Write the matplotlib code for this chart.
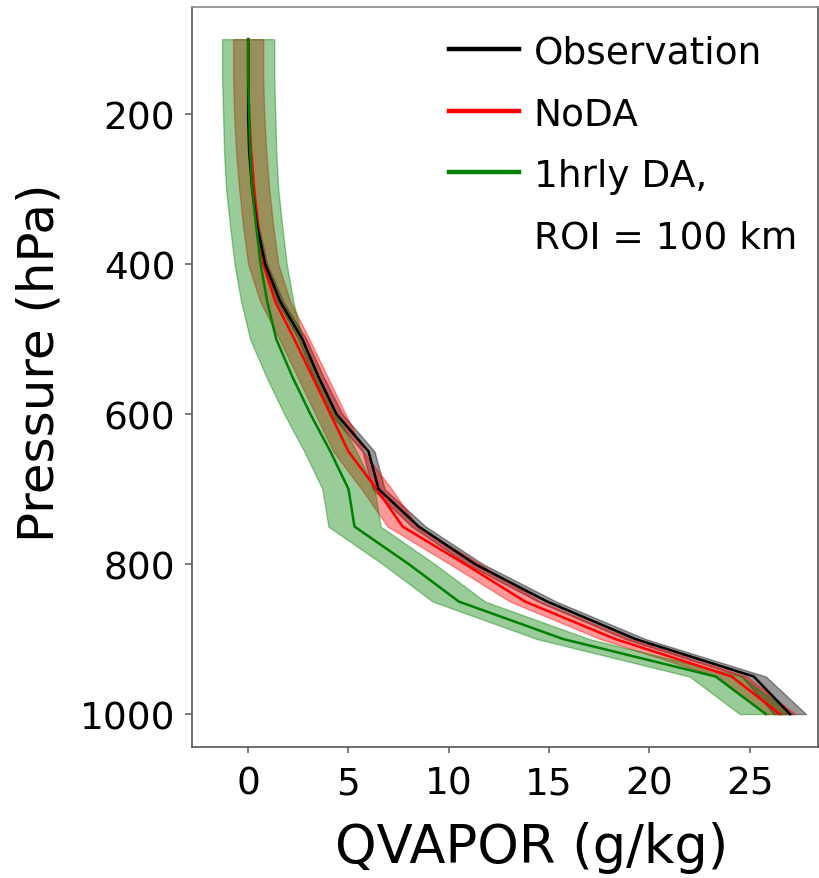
import numpy as np
import matplotlib
matplotlib.use('Agg')
import matplotlib.pyplot as plt
from matplotlib.lines import Line2D

# pressure levels (hPa)
pressure = [100, 150, 200, 250, 300, 350, 400, 450, 500, 550,
            600, 650, 700, 750, 800, 850, 900, 950, 1000]

# water vapour mixing ratio (g/kg)
obs = [0.0, 0.0, 0.0, 0.05, 0.2, 0.45, 0.85, 1.6, 2.7, 3.5,
       4.4, 6.0, 6.5, 8.5, 11.3, 14.9, 19.3, 25.2, 27.0]
noda = [0.0, 0.0, 0.05, 0.15, 0.3, 0.5, 0.75, 1.35, 2.3, 3.2,
        4.1, 5.0, 6.4, 7.7, 10.8, 13.8, 18.3, 24.1, 26.5]
da1h = [0.0, 0.0, 0.05, 0.1, 0.2, 0.4, 0.62, 0.95, 1.4, 2.2,
        3.1, 4.1, 5.0, 5.3, 8.0, 10.5, 15.7, 23.3, 25.8]

# spread (half width of shaded band)
obs_spread = [0.0, 0.0, 0.0, 0.02, 0.05, 0.08, 0.1, 0.15, 0.2, 0.25,
              0.3, 0.3, 0.3, 0.35, 0.4, 0.45, 0.5, 0.6, 0.8]
noda_spread = 0.75
da1h_spread = 1.3

plt.rcParams['font.family'] = 'DejaVu Sans'

fig = plt.figure(figsize=(8.19, 8.79), dpi=100)
ax = fig.add_axes([0.2344, 0.149, 0.7644, 0.842])

p = np.array(pressure)
ax.fill_betweenx(p, np.array(obs) - np.array(obs_spread), np.array(obs) + np.array(obs_spread),
                 color='black', alpha=0.4, linewidth=1)
ax.fill_betweenx(p, np.array(noda) - noda_spread, np.array(noda) + noda_spread,
                 color='red', alpha=0.4, linewidth=1)
ax.fill_betweenx(p, np.array(da1h) - da1h_spread, np.array(da1h) + da1h_spread,
                 color='green', alpha=0.4, linewidth=1)

l2, = ax.plot(noda, p, color='red', lw=1.8, label='NoDA')
l1, = ax.plot(obs, p, color='black', lw=1.8, label='Observation')
l3, = ax.plot(da1h, p, color='green', lw=1.8, label='1hrly DA,')
blank = Line2D([], [], color='none', lw=0, label='ROI = 100 km')

ax.set_xlim(-2.8, 28.4)
ax.set_ylim(1044, 57)
ax.set_xticks([0, 5, 10, 15, 20, 25])
ax.set_yticks([200, 400, 600, 800, 1000])
ax.tick_params(labelsize=27, colors='#666666', labelcolor='black')
ax.tick_params(axis='x', length=4, width=1.2, pad=9)
ax.tick_params(axis='y', length=5, width=1.2, pad=7)
for s in ax.spines.values():
    s.set_color('#555555')
    s.set_linewidth(1.2)
ax.spines['top'].set_color('#888888')

ax.set_xlabel('QVAPOR (g/kg)', fontsize=38)
ax.set_ylabel('Pressure (hPa)', fontsize=36)
ax.xaxis.set_label_coords(0.543, -0.1)
ax.yaxis.set_label_coords(-0.205, 0.52)

leg = ax.legend(handles=[l1, l2, l3, blank], loc='upper right', frameon=False, fontsize=27,
                handlelength=1.85, handletextpad=0.4, labelspacing=0.68,
                borderaxespad=0.2, bbox_to_anchor=(1.002, 0.993))
for h in leg.get_lines():
    h.set_linewidth(3.2)

fig.savefig('out.png', dpi=100)
